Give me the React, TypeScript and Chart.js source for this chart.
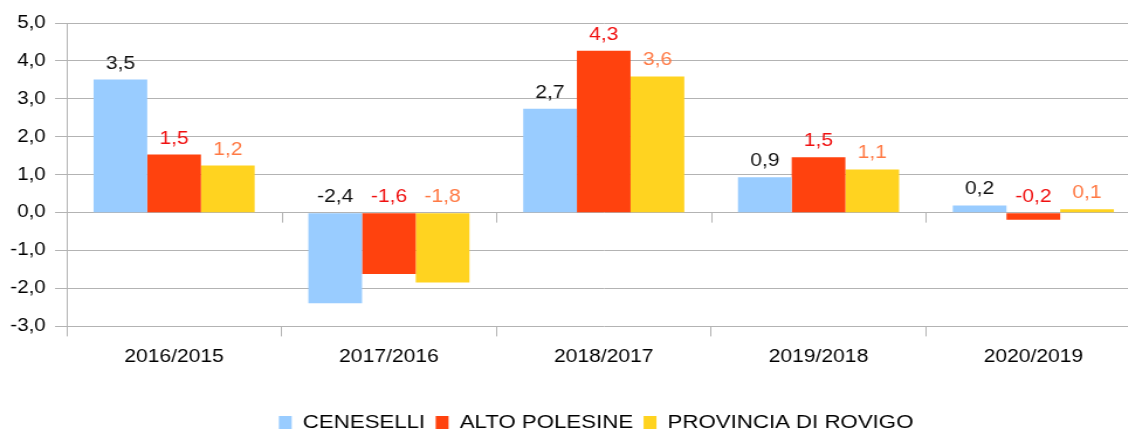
import React, { useEffect, useRef } from 'react';
import { Chart, registerables } from 'chart.js';

Chart.register(...registerables);

const categories = ['2016/2015', '2017/2016', '2018/2017', '2019/2018', '2020/2019'];
const seriesNames = ['CENESELLI', 'ALTO POLESINE', 'PROVINCIA DI ROVIGO'];
const ceneselli = [3.51, -2.39, 2.74, 0.93, 0.19];
const altoPolesine = [1.53, -1.62, 4.27, 1.46, -0.19];
const provinciaRovigo = [1.24, -1.84, 3.59, 1.14, 0.09];
const yMin = -3;
const yMax = 5;
const yStep = 1;

const barColors = ['#99ccff', '#ff420e', '#ffd320'];
const labelColors = ['#111111', '#f01010', '#ff7a45'];

const SX = 1.17;
const W = 1019;
const H = 444;
const FONT = "'Liberation Sans', Arial, sans-serif";

const fmt = (v: number) => v.toFixed(1).replace('.', ',');

const dataLabelPlugin = {
  id: 'dataLabels',
  afterDatasetsDraw(chart: any) {
    const ctx = chart.ctx;
    ctx.save();
    ctx.font = `18px ${FONT}`;
    ctx.textAlign = 'center';
    ctx.textBaseline = 'alphabetic';
    chart.data.datasets.forEach((ds: any, d: number) => {
      const meta = chart.getDatasetMeta(d);
      meta.data.forEach((el: any, i: number) => {
        const p = el.getProps(['x', 'y', 'base'], true);
        const top = Math.min(p.y, p.base);
        ctx.fillStyle = labelColors[d];
        ctx.fillText(fmt(ds.data[i]), p.x, top - 11);
      });
    });
    ctx.restore();
  },
};

const zeroTicksPlugin = {
  id: 'zeroTicks',
  afterDraw(chart: any) {
    const xs = chart.scales.x;
    const ys = chart.scales.y;
    const ctx = chart.ctx;
    const y0 = ys.getPixelForValue(0);
    const step = xs.getPixelForValue(1) - xs.getPixelForValue(0);
    ctx.save();
    ctx.strokeStyle = '#b3b3b3';
    ctx.lineWidth = 1;
    for (let i = 0; i <= categories.length; i++) {
      const px = Math.round(xs.getPixelForValue(i) - step / 2) + 0.5;
      ctx.beginPath();
      ctx.moveTo(px, y0);
      ctx.lineTo(px, y0 + 10);
      ctx.stroke();
    }
    ctx.restore();
  },
};

export default function App() {
  const ref = useRef<HTMLCanvasElement | null>(null);

  useEffect(() => {
    if (!ref.current) return;
    const seriesValues = [ceneselli, altoPolesine, provinciaRovigo];
    const chart = new Chart(ref.current, {
      type: 'bar',
      data: {
        labels: categories,
        datasets: seriesNames.map((name, k) => ({
          label: name,
          data: seriesValues[k],
          backgroundColor: barColors[k],
          borderWidth: 0,
          categoryPercentage: 0.75,
          barPercentage: 1.0,
        })),
      },
      options: {
        animation: false,
        responsive: false,
        devicePixelRatio: 1,
        layout: { padding: { left: 0, right: 0, top: 23, bottom: 2 } },
        plugins: {
          tooltip: { enabled: false },
          legend: {
            position: 'bottom',
            labels: {
              boxWidth: 11,
              boxHeight: 13,
              padding: 9,
              color: '#000',
              font: { size: 19, family: FONT },
            },
          },
        },
        scales: {
          x: {
            offset: true,
            afterFit: (scale: any) => {
              scale.height = scale.height + 26;
            },
            grid: {
              offset: true,
              drawOnChartArea: false,
              drawTicks: true,
              tickLength: 10,
              color: '#b3b3b3',
            },
            border: { display: false },
            ticks: {
              color: '#000',
              padding: 10,
              font: { size: 18, family: FONT },
              maxRotation: 0,
            },
          },
          y: {
            min: yMin,
            max: yMax,
            afterFit: (scale: any) => {
              scale.width = 57;
            },
            grid: { color: '#b3b3b3', tickLength: 10, lineWidth: 1 },
            border: { display: true, color: '#b3b3b3' },
            ticks: {
              stepSize: yStep,
              color: '#000',
              padding: 8,
              font: { size: 17.5, family: FONT },
              callback: (v: any) => fmt(Number(v)),
            },
          },
          spacer: {
            type: 'linear',
            position: 'right',
            display: true,
            grid: { display: false, drawTicks: false },
            border: { display: false },
            ticks: { display: false },
            afterFit: (scale: any) => {
              scale.width = 44;
            },
          },
        },
      },
      plugins: [dataLabelPlugin, zeroTicksPlugin],
    });
    return () => chart.destroy();
  }, []);

  return (
    <div
      style={{
        position: 'fixed',
        left: 0,
        top: 0,
        width: 1128,
        height: 432,
        overflow: 'hidden',
        background: '#fff',
      }}
    >
      <div style={{ width: W, height: H, transform: `scaleX(${SX})`, transformOrigin: '0 0' }}>
        <canvas ref={ref} width={W} height={H} style={{ display: 'block' }} />
      </div>
    </div>
  );
}
